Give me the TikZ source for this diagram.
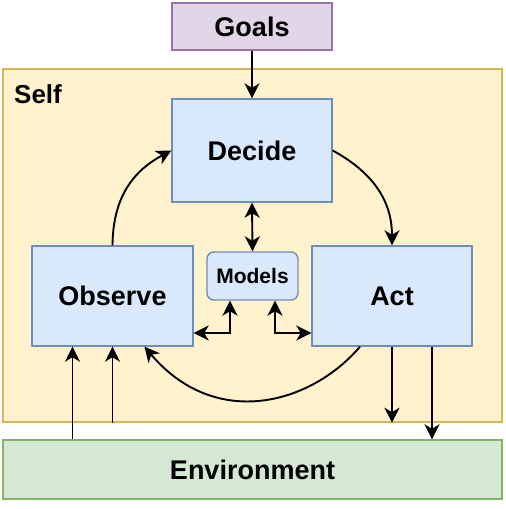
\documentclass[tikz,border=0pt]{standalone}
\usepackage{fontspec}
\setmainfont{Liberation Sans}
\usetikzlibrary{arrows.meta}
\definecolor{bluefill}{HTML}{DAE8FC}
\definecolor{bluedraw}{HTML}{6C8EBF}
\definecolor{purfill}{HTML}{E1D5E7}
\definecolor{purdraw}{HTML}{9673A6}
\definecolor{yelfill}{HTML}{FFF2CC}
\definecolor{yeldraw}{HTML}{D6B656}
\definecolor{grnfill}{HTML}{D5E8D4}
\definecolor{grndraw}{HTML}{82B366}
\tikzset{
  box/.style={draw=bluedraw, fill=bluefill, line width=1.4pt, inner sep=0pt,
    font=\fontsize{27}{32}\selectfont\bfseries},
  conn/.style={line width=1.9pt, -{Stealth[length=15pt,width=15pt,inset=4.5pt]}},
  dconn/.style={line width=1.9pt, {Stealth[length=15pt,width=15pt,inset=4.5pt]}-{Stealth[length=15pt,width=15pt,inset=4.5pt]}},
}
\begin{document}
\begin{tikzpicture}[x=1pt,y=-1pt]
\useasboundingbox (0,0) rectangle (506,509);
% containers
\node[draw=yeldraw, fill=yelfill, line width=1.4pt, minimum width=499pt, minimum height=353pt, inner sep=0pt] (self) at (252.5,245.5) {};
\node[anchor=base west, inner sep=0pt, font=\fontsize{26}{30}\selectfont\bfseries] (selflbl) at (14,103) {Self};
\node[draw=grndraw, fill=grnfill, line width=1.4pt, minimum width=499pt, minimum height=59pt, inner sep=0pt, font=\fontsize{27}{32}\selectfont\bfseries] (env) at (252.5,469.5) {Environment};
\node[draw=purdraw, fill=purfill, line width=1.4pt, minimum width=160pt, minimum height=47pt, inner sep=0pt, font=\fontsize{27}{32}\selectfont\bfseries] (goals) at (252,26.5) {Goals};
% process boxes
\node[box, minimum width=160pt, minimum height=103pt] (dec) at (252,150.5) {Decide};
\node[box, minimum width=161pt, minimum height=100pt] (obs) at (112.5,296) {Observe};
\node[box, minimum width=160pt, minimum height=100pt] (act) at (392,296) {Act};
\node[box, rounded corners=7pt, minimum width=91pt, minimum height=48pt, font=\fontsize{21}{25}\selectfont\bfseries] (mod) at (252.5,276) {Models};
% helper coordinates
\coordinate (o1) at ([xshift=-40pt]obs.south);
\coordinate (o3) at ([xshift=32pt]obs.south);
\coordinate (a1) at ([xshift=-32pt]act.south);
\coordinate (a3) at ([xshift=40pt]act.south);
\coordinate (m1) at ([xshift=-22.5pt]mod.south);
\coordinate (m2) at ([xshift=22.5pt]mod.south);
\coordinate (oe) at ([yshift=-37pt]obs.east);
\coordinate (ae) at ([yshift=-37pt]act.west);
% connectors
\draw[conn] (goals.south) -- (dec.north);
\draw[conn] (obs.north) .. controls (113,195) and (135,170) .. (dec.west);
\draw[conn] (dec.east) .. controls (372,172) and (392,200) .. (act.north);
\draw[dconn] (dec.south) -- (mod.north);
\draw[dconn] (m1) |- (oe);
\draw[dconn] (m2) |- (ae);
\draw[conn] (a1) .. controls (310,405) and (215,430) .. (o3);
\draw[conn] (act.south) -- (act.south |- self.south);
\draw[conn] (a3) -- (a3 |- env.north);
\draw[conn] (o1 |- env.north) -- (o1);
\draw[conn] (obs.south |- self.south) -- (obs.south);
\end{tikzpicture}
\end{document}
